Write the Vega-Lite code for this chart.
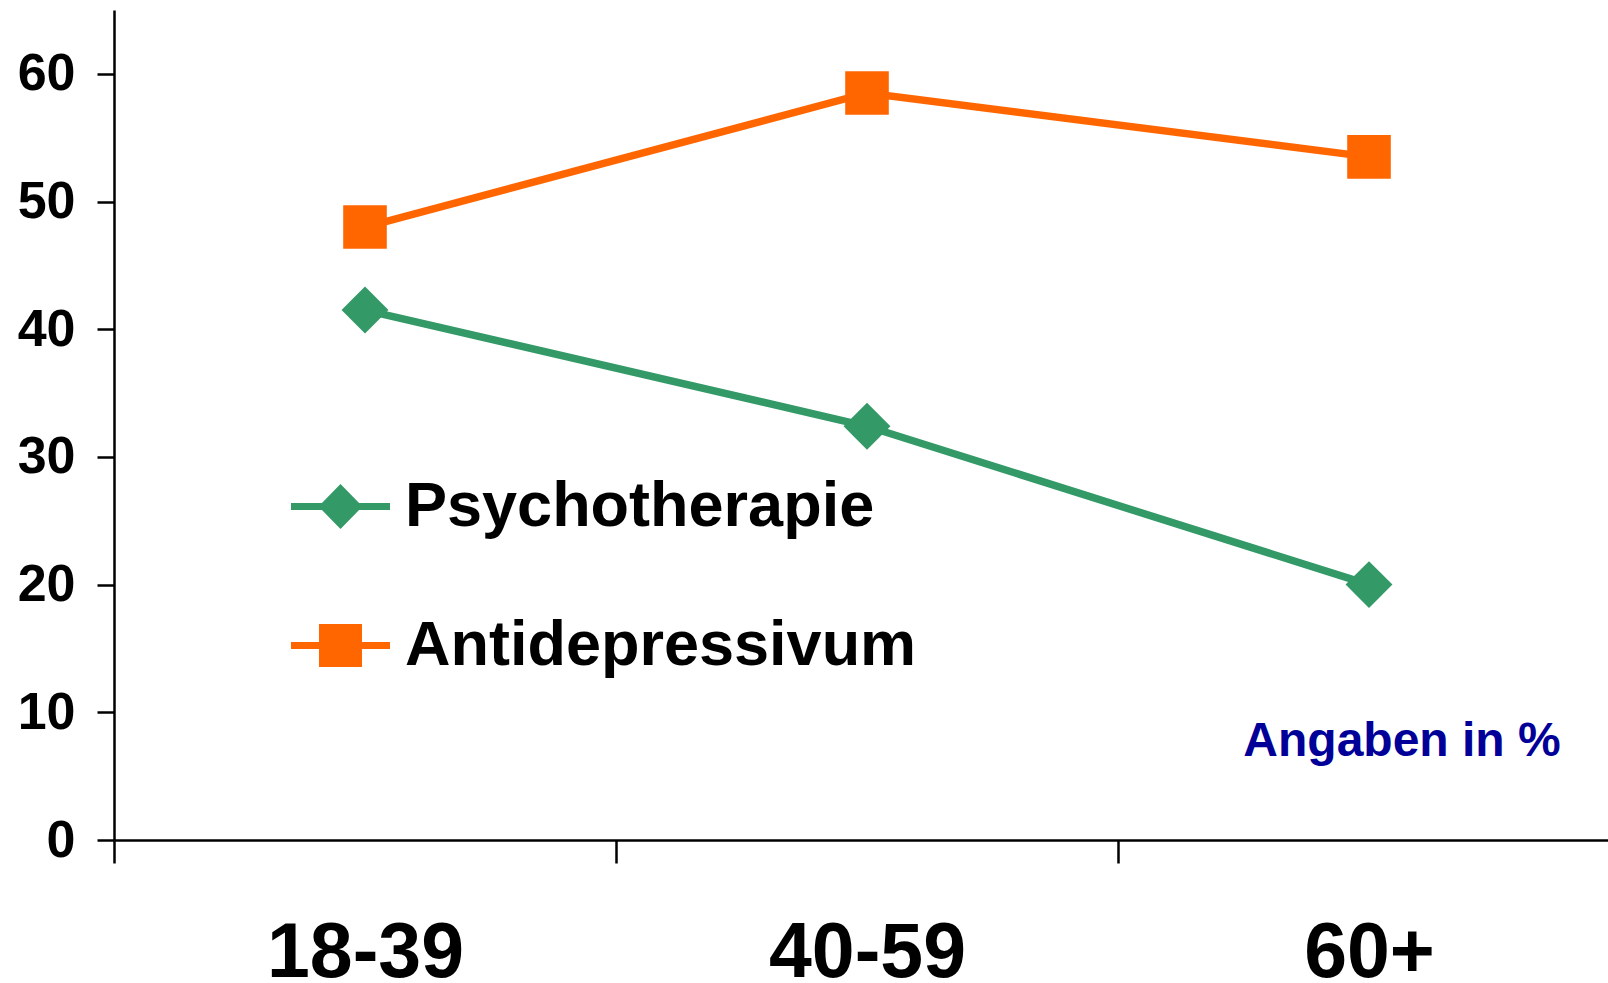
{
  "$schema": "https://vega.github.io/schema/vega-lite/v6.json",
  "width": 1494,
  "height": 830,
  "autosize": {"type": "none"},
  "padding": {"left": 114, "top": 10, "right": 0, "bottom": 143},
  "background": "white",
  "config": {"view": {"stroke": null}, "font": "Liberation Sans"},
  "data": {
    "values": [
      {"age": "18-39", "series": "Psychotherapie", "value": 41.5},
      {"age": "40-59", "series": "Psychotherapie", "value": 32.4},
      {"age": "60+", "series": "Psychotherapie", "value": 20.0},
      {"age": "18-39", "series": "Antidepressivum", "value": 48.0},
      {"age": "40-59", "series": "Antidepressivum", "value": 58.5},
      {"age": "60+", "series": "Antidepressivum", "value": 53.5}
    ]
  },
  "layer": [
    {
      "mark": {"type": "line", "strokeWidth": 7.5},
      "encoding": {
        "x": {
          "field": "age", "type": "nominal", "sort": ["18-39", "40-59", "60+"], "bandPosition": 0.5,
          "scale": {"type": "band", "range": [0, 1506], "paddingInner": 0, "paddingOuter": 0},
          "axis": {"title": null, "tickBand": "extent", "tickSize": 23, "tickWidth": 2.5, "tickColor": "black", "domainColor": "black", "domainWidth": 2.5, "labelFontSize": 77, "labelFontWeight": "bold", "labelColor": "black", "labelFont": "Liberation Sans", "labelPadding": 52, "labelAngle": 0, "labelLimit": 0, "grid": false}
        },
        "y": {
          "field": "value", "type": "quantitative",
          "scale": {"domain": [0, 65], "nice": false},
          "axis": {"title": null, "values": [0, 10, 20, 30, 40, 50, 60], "tickSize": 17, "tickWidth": 2.5, "tickColor": "black", "domainColor": "black", "domainWidth": 2.5, "labelFontSize": 52, "labelFontWeight": "bold", "labelColor": "black", "labelFont": "Liberation Sans", "labelPadding": 22, "labelLimit": 0, "grid": false}
        },
        "color": {
          "field": "series", "type": "nominal",
          "scale": {"domain": ["Psychotherapie", "Antidepressivum"], "range": ["#339966", "#FF6600"]},
          "legend": {
            "orient": "none", "legendX": 177, "legendY": 447, "title": null,
            "symbolSize": 9801, "labelFontSize": 63, "labelFontWeight": "bold", "labelColor": "black", "labelFont": "Liberation Sans",
            "labelOffset": 15, "labelLimit": 0, "rowPadding": 57, "padding": 0, "symbolOpacity": 1, "symbolStrokeWidth": 0,
            "encoding": {
              "symbols": {
                "shape": {"value": {"expr": "datum.value === 'Psychotherapie' ? 'M-1,-0.07L1,-0.07L1,0.07L-1,0.07Z M0,-0.455L0.444,0L0,0.455L-0.444,0Z' : 'M-1,-0.07L1,-0.07L1,0.07L-1,0.07Z M-0.434,-0.434L0.434,-0.434L0.434,0.434L-0.434,0.434Z'"}},
                "fill": {"value": {"expr": "datum.value === 'Psychotherapie' ? '#339966' : '#FF6600'"}},
                "opacity": {"value": 1},
                "strokeWidth": {"value": 0}
              }
            }
          }
        }
      }
    },
    {
      "transform": [{"filter": "datum.series === 'Psychotherapie'"}],
      "mark": {"type": "point", "shape": "diamond", "filled": true, "opacity": 1, "size": 2200},
      "encoding": {
        "x": {"field": "age", "type": "nominal", "sort": ["18-39", "40-59", "60+"], "bandPosition": 0.5},
        "y": {"field": "value", "type": "quantitative"},
        "color": {"field": "series", "type": "nominal"}
      }
    },
    {
      "transform": [{"filter": "datum.series === 'Antidepressivum'"}],
      "mark": {"type": "point", "shape": "square", "filled": true, "opacity": 1, "size": 1900},
      "encoding": {
        "x": {"field": "age", "type": "nominal", "sort": ["18-39", "40-59", "60+"], "bandPosition": 0.5},
        "y": {"field": "value", "type": "quantitative"},
        "color": {"field": "series", "type": "nominal"}
      }
    },
    {
      "data": {"values": [{"note": "Angaben in %"}]},
      "mark": {"type": "text", "align": "center", "baseline": "alphabetic", "fontSize": 48, "fontWeight": "bold", "color": "#000099", "font": "Liberation Sans", "dx": 33},
      "encoding": {
        "x": {"datum": "60+", "bandPosition": 0.5},
        "y": {"datum": 6.55},
        "text": {"field": "note"}
      }
    }
  ]
}
